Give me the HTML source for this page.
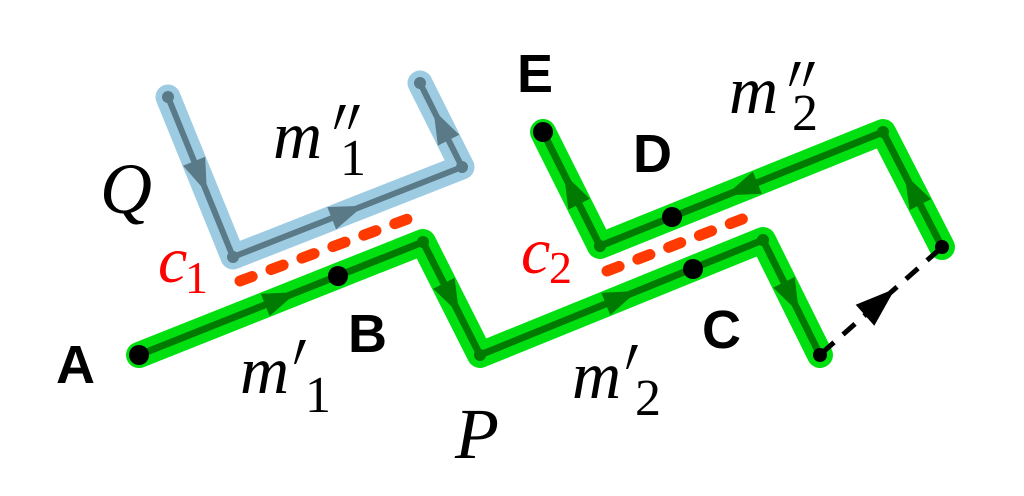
<!DOCTYPE html>
<html><head><meta charset="utf-8"><style>
html,body{margin:0;padding:0;background:#fff;}
svg{display:block}
.m{font-family:"Liberation Serif",serif;font-style:italic;fill:#000}
.n{font-family:"Liberation Serif",serif;fill:#000}
.b{font-family:"Liberation Sans",sans-serif;font-weight:bold;fill:#000}
</style></head><body>
<svg width="1024" height="496" viewBox="0 0 1024 496" xmlns="http://www.w3.org/2000/svg">
<defs>
<path id="pr" d="M-2,0 L4,0 L-6,24 L-8,24 z"/>
</defs>
<!-- blue Q -->
<polyline points="168,97 233,257 462,167 420,83" fill="none" stroke="#9dcce2" stroke-width="25" stroke-linejoin="round" stroke-linecap="round"/>
<polyline points="168,97 233,257 462,167 420,83" fill="none" stroke="#5a7a88" stroke-width="6" stroke-linejoin="round" stroke-linecap="round"/>
<g fill="#5a7a88">
<circle cx="168" cy="97" r="6"/><circle cx="233" cy="257" r="6"/><circle cx="462" cy="167" r="6"/><circle cx="420" cy="83" r="6"/>
<polygon points="206.9,192.7 183.0,165.8 205.2,156.8"/>
<polygon points="363.3,205.8 336.1,229.4 327.3,207.0"/>
<polygon points="433.4,109.8 459.3,134.8 437.9,145.6"/>
</g>
<!-- green -->
<g fill="none" stroke="#00e010" stroke-width="26" stroke-linejoin="round" stroke-linecap="round">
<polyline points="139,355 423,242 480,355 763,240 820,355"/>
<polyline points="942,247 883,132 600,246 543,132"/>
</g>
<g fill="none" stroke="#007a00" stroke-width="7" stroke-linecap="round" stroke-linejoin="round">
<polyline points="139,355 423,242 480,355 763,240 820,355"/>
<polyline points="942,247 883,132 600,246 543,132"/>
</g>
<g fill="#007a00">
<circle cx="423" cy="242" r="6"/><circle cx="480" cy="355" r="6"/><circle cx="763" cy="240" r="6"/><circle cx="883" cy="132" r="6"/><circle cx="600" cy="246" r="6"/>
<polygon points="296.8,292.2 269.6,316.0 260.8,293.7"/>
<polygon points="459.2,313.7 433.2,288.7 454.6,277.9"/>
<polygon points="637.2,291.1 610.3,315.0 601.3,292.8"/>
<polygon points="799.0,312.7 773.2,287.6 794.7,277.0"/>
<polygon points="904.7,174.4 931.0,199.1 909.6,210.1"/>
<polygon points="725.7,195.4 752.8,171.5 761.8,193.7"/>
<polygon points="563.9,173.8 589.8,198.8 568.4,209.6"/>
</g>
<!-- red dashed -->
<g stroke="#ff3a00" stroke-width="11" stroke-linecap="round" stroke-dasharray="13 20">
<line x1="240" y1="281" x2="413" y2="217"/>
<line x1="607" y1="271" x2="758" y2="213"/>
</g>
<!-- black dashed arrow -->
<path d="M822,353 L940,249" fill="none" stroke="#000" stroke-width="5" stroke-dasharray="16 12"/>
<polygon points="895,288.7 874.3,325.8 855.7,304.8" fill="#000"/>
<g fill="#000">
<circle cx="139" cy="355" r="10"/><circle cx="338" cy="276" r="10"/><circle cx="693" cy="269" r="10"/><circle cx="672" cy="217" r="10"/><circle cx="543" cy="132" r="10"/>
<circle cx="820" cy="355" r="7"/><circle cx="942" cy="247" r="7"/>
</g>
<!-- labels -->
<text class="b" x="56" y="383" font-size="54">A</text>
<text class="b" x="348" y="352" font-size="54">B</text>
<text class="b" x="702" y="348" font-size="54">C</text>
<text class="b" x="633" y="172" font-size="54">D</text>
<text class="b" x="517" y="92" font-size="54">E</text>
<text class="m" x="100" y="213" font-size="72">Q</text>
<text class="m" x="455" y="458" font-size="72">P</text>
<text class="m" x="240" y="393" font-size="68">m</text>
<use href="#pr" x="302" y="340"/>
<text class="n" x="305" y="412" font-size="52">1</text>
<text class="m" x="572" y="398" font-size="68">m</text>
<use href="#pr" x="634" y="345"/>
<text class="n" x="635" y="415" font-size="52">2</text>
<text class="m" x="273" y="158" font-size="68">m</text>
<use href="#pr" x="342" y="105"/><use href="#pr" x="356" y="105"/>
<text class="n" x="340" y="175" font-size="52">1</text>
<text class="m" x="729" y="113" font-size="68">m</text>
<use href="#pr" x="797" y="62"/><use href="#pr" x="811" y="62"/>
<text class="n" x="792" y="130" font-size="52">2</text>
<text class="m" x="158" y="282" font-size="66" style="fill:#ff0000">c</text><text class="n" x="185" y="293" font-size="46" style="fill:#ff0000">1</text>
<text class="m" x="521" y="273" font-size="66" style="fill:#ff0000">c</text><text class="n" x="549" y="283" font-size="46" style="fill:#ff0000">2</text>
</svg>
</body></html>
